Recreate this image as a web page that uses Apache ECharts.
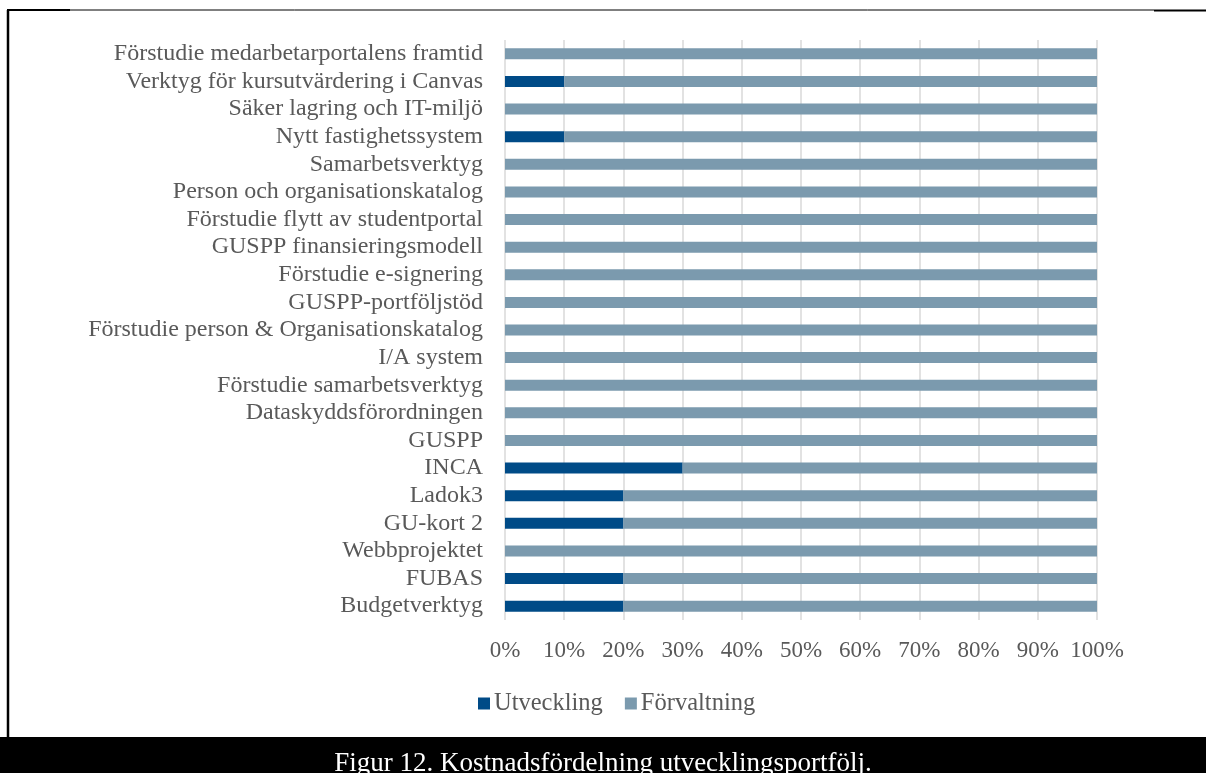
<!DOCTYPE html>
<html><head><meta charset="utf-8">
<script src="https://cdn.jsdelivr.net/npm/echarts@6/dist/echarts.min.js"></script>
<style>html,body{margin:0;padding:0;background:#fff}#c{width:1206px;height:773px}</style>
</head><body><div id="c"></div>
<script>
const categories = ["Budgetverktyg","FUBAS","Webbprojektet","GU-kort 2","Ladok3","INCA","GUSPP","Dataskyddsförordningen","Förstudie samarbetsverktyg","I/A system","Förstudie person & Organisationskatalog","GUSPP-portföljstöd","Förstudie e-signering","GUSPP finansieringsmodell","Förstudie flytt av studentportal","Person och organisationskatalog","Samarbetsverktyg","Nytt fastighetssystem","Säker lagring och IT-miljö","Verktyg för kursutvärdering i Canvas","Förstudie medarbetarportalens framtid"];
const utveckling = [20,20,0,20,20,30,0,0,0,0,0,0,0,0,0,0,0,10,0,10,0];
const forvaltning = [80,80,100,80,80,70,100,100,100,100,100,100,100,100,100,100,100,90,100,90,100];
const caption = "Figur 12. Kostnadsfördelning utvecklingsportfölj.";
const font = "'Liberation Serif','Times New Roman',serif";
const chart = echarts.init(document.getElementById('c'));
chart.setOption({
  backgroundColor:'#fff',
  animation:false,
  grid:{left:505,right:109,top:40,height:580,containLabel:false},
  legend:{top:686,left:473,itemWidth:12,itemHeight:12,itemGap:22,icon:'rect',
    textStyle:{fontFamily:font,fontSize:24.5,color:'#595959',padding:[0,0,0,-1]},
    data:['Utveckling','Förvaltning']},
  xAxis:{type:'value',min:0,max:100,interval:10,
    axisLabel:{formatter:'{value}%',fontFamily:font,fontSize:23,color:'#595959',margin:19},
    axisLine:{show:false},axisTick:{show:false},
    splitLine:{lineStyle:{color:'#d9d9d9',width:1.5}}},
  yAxis:{type:'category',data:categories,
    axisLabel:{interval:0,fontFamily:font,fontSize:24,color:'#595959',margin:22},
    axisLine:{show:false},axisTick:{show:false}},
  series:[
    {name:'Utveckling',type:'bar',stack:'s',data:utveckling,barWidth:11,itemStyle:{color:'#004B87'}},
    {name:'Förvaltning',type:'bar',stack:'s',data:forvaltning,barWidth:11,itemStyle:{color:'#7B9AAE'}}
  ],
  graphic:[
    {type:'rect',shape:{x:0,y:737,width:1206,height:36},style:{fill:'#000'},z:10},
    {type:'text',x:603,y:764,style:{text:caption,fill:'#fff',font:"27px "+font,textAlign:'center',textVerticalAlign:'middle'},z:11},
    {type:'line',shape:{x1:8,y1:10,x2:8,y2:737},style:{stroke:'#000',lineWidth:2.5},z:10},
    {type:'line',shape:{x1:8,y1:10,x2:1154,y2:10},style:{stroke:'#000',lineWidth:1},z:10},
    {type:'line',shape:{x1:7,y1:10,x2:70,y2:10},style:{stroke:'#000',lineWidth:2},z:10},
    {type:'line',shape:{x1:1154,y1:10.5,x2:1206,y2:10.5},style:{stroke:'#000',lineWidth:2},z:10}
  ]
});
</script></body></html>
